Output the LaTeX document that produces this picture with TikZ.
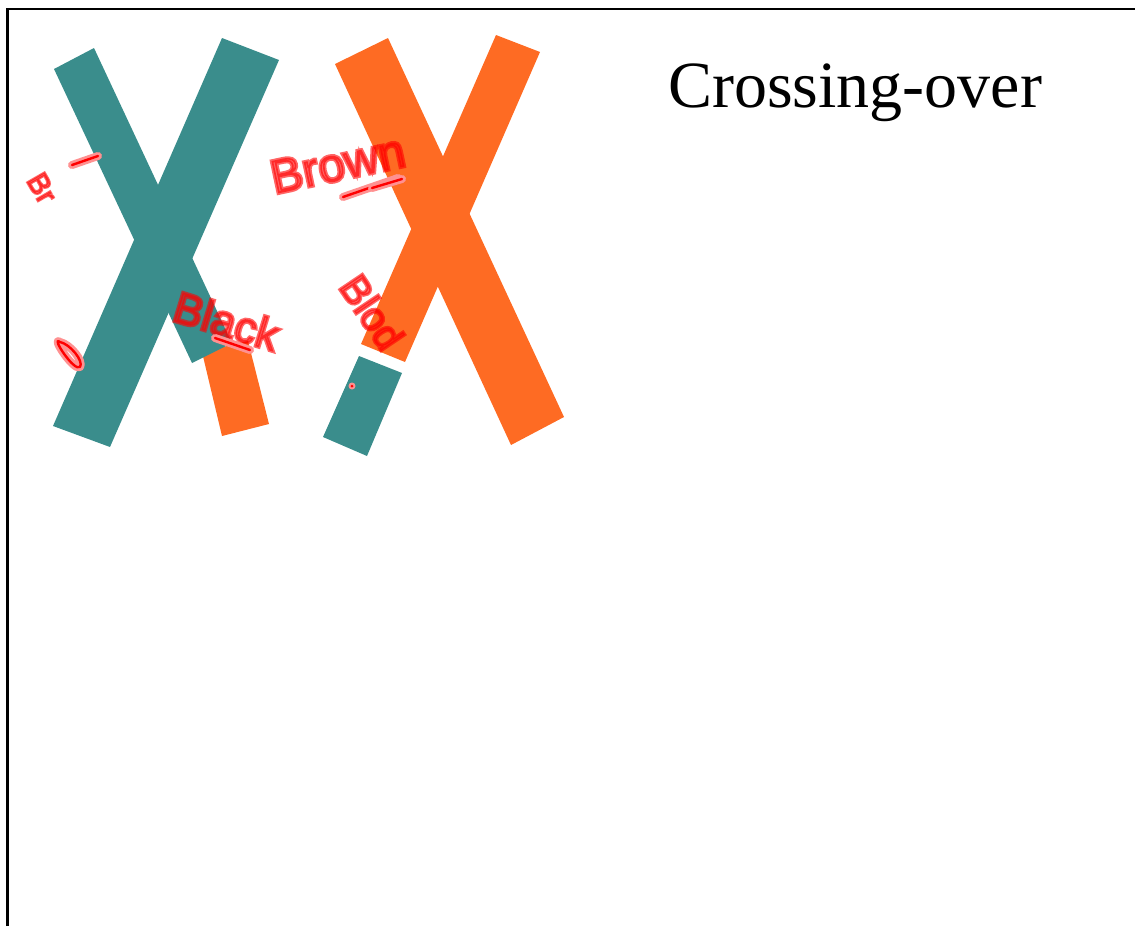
\documentclass[tikz,border=0pt]{standalone}
\usepackage{fontspec}
\setmainfont{Liberation Serif}
% red marker ink: stroked outline, partly see-through, gives the soft rim
\newfontfamily\inkfont{Liberation Sans}[FakeBold=7, Color=FF000099]

\definecolor{chromTeal}{RGB}{58,141,140}
\definecolor{chromOrange}{RGB}{254,107,35}
\definecolor{inkRed}{RGB}{255,0,0}
\definecolor{inkHalo}{RGB}{255,145,145}

\tikzset{
	chromteal/.style={fill=chromTeal, draw=none},
	chromorange/.style={fill=chromOrange, draw=none},
	inkhalo/.style={draw=inkHalo, line width=6pt, line cap=round, line join=round},
	inkline/.style={draw=inkRed, line width=1.8pt, line cap=round, line join=round},
	inktext/.style={inner sep=0pt, font=\inkfont\fontsize{#1}{#1}\selectfont},
}

\begin{document}
\begin{tikzpicture}[x=0.75pt, y=-0.75pt]
		\useasboundingbox (0,0) rectangle (1135,926);
		
		% frame, only left and top edges fall on the page
		\draw[line width=1.8pt] (7.3,926) -- (7.3,9) -- (1135,9);
		
		% first chromosome (teal), arm A ends in the swapped orange piece
		\coordinate (TAa) at (54,69);   % arm A top
		\coordinate (TAb) at (94,48);
		\coordinate (TAc) at (232,343); % arm A break
		\coordinate (TAd) at (192,363);
		\coordinate (TBa) at (222,38);  % arm B top
		\coordinate (TBb) at (279,60);
		\coordinate (TBc) at (110,447); % arm B bottom
		\coordinate (TBd) at (53,426);
		
		\draw[chromorange] (202,352) -- (248,341) -- (269,424) -- (222,436) -- cycle;
		\draw[chromteal] (TAa) -- (TAb) -- (TAc) -- (TAd) -- cycle;
		\draw[chromteal] (TBa) -- (TBb) -- (TBc) -- (TBd) -- cycle;
		
		% second chromosome (orange), arm D ends in the swapped teal piece
		\coordinate (OCa) at (335,64);  % arm C top
		\coordinate (OCb) at (388,38);
		\coordinate (OCc) at (564,417); % arm C bottom
		\coordinate (OCd) at (511,445);
		\coordinate (ODa) at (496,35);  % arm D top
		\coordinate (ODb) at (540,52);
		\coordinate (ODc) at (405,362); % arm D break
		\coordinate (ODd) at (361,344);
		
		\draw[chromorange] (OCa) -- (OCb) -- (OCc) -- (OCd) -- cycle;
		\draw[chromorange] (ODa) -- (ODb) -- (ODc) -- (ODd) -- cycle;
		\draw[chromteal] (359,356) -- (402,373) -- (367,456) -- (323,437) -- cycle;
		
		% title
		\node[anchor=base west, inner sep=0pt, font=\fontsize{49.5}{58}\selectfont] (title) at (668,107) {Crossing-over};
		
		% red ink notes
		\node[inktext=36, anchor=base, rotate=12] (brown) at (341,180) {Brown};
		\node[inktext=33, anchor=base, rotate=-17] (black) at (222,336) {Black};
		\node[inktext=30, anchor=center, rotate=-56] (blond) at (372,312) {Blod};
		\node[inktext=22, anchor=center, rotate=-60] (br) at (42,188) {Br};
		
		% strokes under and beside the notes
		\foreach \ax/\ay/\bx/\by in {343/197/398/178, 372/188/402/179, 215/338/250/350, 72/165/98/156}{
			\draw[inkhalo] (\ax,\ay) -- (\bx,\by);
			\draw[inkline] (\ax,\ay) -- (\bx,\by);
		}
		\draw[inkhalo] (60,342) .. controls (50,335) and (74,372) .. (80,367) .. controls (84,361) and (70,344) .. (60,342);
		\draw[inkline] (60,342) .. controls (50,335) and (74,372) .. (80,367) .. controls (84,361) and (70,344) .. (60,342);
		\fill[inkHalo] (352,386) circle (3.5);
		\fill[inkRed] (352,386) circle (1.5);
		
	\end{tikzpicture}
\end{document}
